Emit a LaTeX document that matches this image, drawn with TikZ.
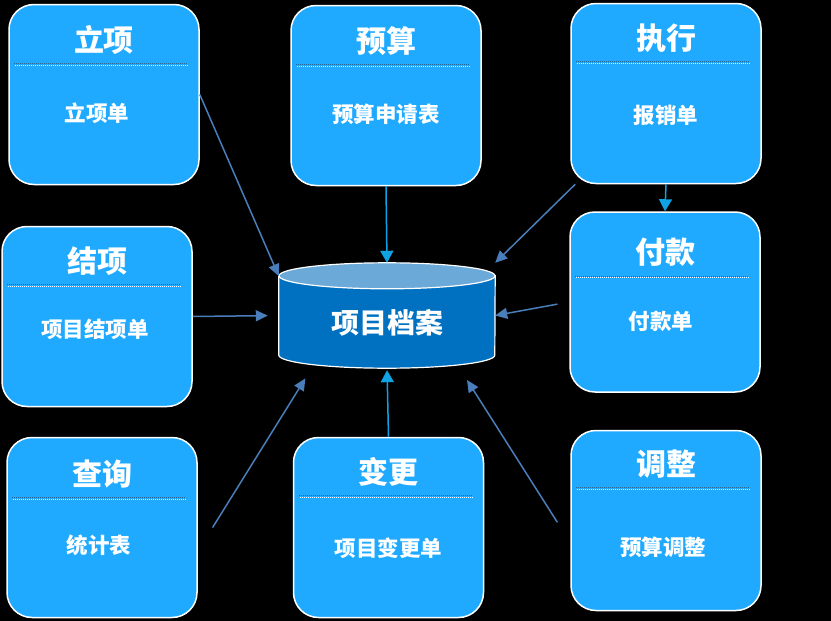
\documentclass[tikz,border=0pt]{standalone}
\usepackage{fontspec}
\setmainfont{Noto Sans CJK SC}
\usetikzlibrary{arrows.meta}
\definecolor{cardblue}{HTML}{1FAAFF}
\definecolor{dbblue}{HTML}{0070C0}
\definecolor{dbtop}{HTML}{6AA9D8}
\definecolor{linkblue}{HTML}{4A7EBB}
\definecolor{flowcyan}{HTML}{0FA3E6}
\definecolor{ruleshade}{HTML}{2A6693}

\tikzset{
  card/.style={draw=white, fill=cardblue, line width=1.5pt, rounded corners=25pt,
    minimum width=190pt, minimum height=180pt, inner sep=0pt},
  cardtitle/.style={text=white, font=\bfseries\fontsize{30}{30}\selectfont, inner sep=0pt},
  cardsub/.style={text=white, font=\bfseries\fontsize{21.5}{22}\selectfont, inner sep=0pt},
  link/.style={linkblue, line width=1.5pt, -{Triangle[length=12pt, width=11pt]}},
  flow/.style={flowcyan, line width=1.5pt, -{Triangle[length=12pt, width=13pt]}},
}

\begin{document}
\begin{tikzpicture}[x=1pt, y=-1pt]

% Background
\fill[black] (0,0) rectangle (831,621);
\useasboundingbox (0,0) rectangle (831,621);

%% Cards: name / centre / title / form / title and form offsets / form xshift
\foreach \name/\x/\y/\title/\sub/\dt/\ds/\sx in {
  lx/104/94.5/立项/立项单/36/109/-7,
  ys/386/95.5/预算/预算申请表/36/110/0,
  zx/666/93.5/执行/报销单/35/113/0,
  jx/97/316.5/结项/项目结项单/35/104/-2,
  fk/665/302/付款/付款单/41/110/-4,
  cx/102/527.5/查询/统计表/37/109/-3,
  bg/388.5/527.5/变更/项目变更单/35/111/0,
  tz/666/520.5/调整/预算调整/34/118/-3%
}{
  \node[card] (\name) at (\x,\y) {};
  \node[cardtitle] (\name-t) at ([yshift=-\dt pt]\name.north) {\title};
  % dotted rule under the title
  \draw[ruleshade, line width=1.4pt, dash pattern=on 1pt off 1pt]
    ([xshift=6pt, yshift={-(\dt+24)}]\name.north west) -- ([xshift=-13pt, yshift={-(\dt+24)}]\name.north east);
  \draw[white, line width=1.4pt, dash pattern=on 1pt off 1pt]
    ([xshift=7pt, yshift={-(\dt+25.5)}]\name.north west) -- ([xshift=-12pt, yshift={-(\dt+25.5)}]\name.north east);
  \node[cardsub] (\name-s) at ([xshift=\sx pt, yshift=-\ds pt]\name.north) {\sub};
}

%% Archive cylinder
\node[minimum width=216pt, minimum height=105pt, inner sep=0pt] (db) at (387,315.5) {};
\filldraw[fill=dbblue, draw=white, line width=1.2pt]
  ([yshift=-13pt]db.north west) -- ([yshift=13pt]db.south west)
  arc[start angle=180, end angle=360, x radius=108pt, y radius=13pt]
  -- ([yshift=-13pt]db.north east) -- cycle;
\filldraw[fill=dbtop, draw=white, line width=1.2pt]
  ([yshift=-13pt]db.north) ellipse[x radius=108pt, y radius=13pt];
\node[text=white, font=\bfseries\fontsize{28}{28}\selectfont, inner sep=0pt]
  (dblabel) at ([yshift=-7pt]db.center) {项目档案};

% Links into the archive
\draw[link] (lx.east) -- (db.160);
\draw[link] (zx.225) -- (db.north east);
\draw[link, shorten >=11pt] (jx.east) -- (db.west);
\draw[link, shorten <=12pt] (fk.west) -- (db.east);
\draw[link, shorten <=28pt, shorten >=12pt] (cx.346) -- (db.215);
\draw[link, shorten <=24pt, shorten >=14pt] (tz.193) -- (db.324);

% Straight flows
\draw[flow] (ys.south) -- (db.north);
\draw[flow] (zx.south) -- (fk.north);
\draw[flow, shorten >=2pt] (bg.north) -- (db.south);

\end{tikzpicture}
\end{document}
